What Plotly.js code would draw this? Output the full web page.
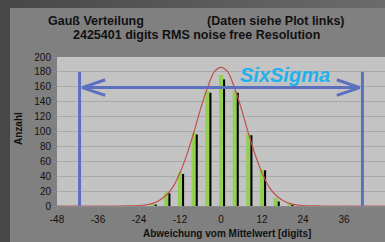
<!DOCTYPE html>
<html>
<head>
<meta charset="utf-8">
<script src="https://cdn.plot.ly/plotly-3.0.1.min.js"></script>
<style>
html,body{margin:0;padding:0;width:385px;height:242px;overflow:hidden;
 background:linear-gradient(to right,#474747,#6b6b6b);}
#chart{position:absolute;left:10px;top:8px;width:375px;height:234px;}
</style>
</head>
<body>
<div id="chart"></div>
<script>
// Histogram bins (digits deviation from mean)
const binX = [-20, -16, -12, -8, -4, 0, 4, 8, 12, 16, 20];
const greenCounts = [3, 18, 45, 98, 154, 176, 154, 97, 49, 11, 3];
const blackCounts = [2, 17, 43, 96, 152, 170, 152, 95, 48, 6, 2];

// Gaussian fit curve
const curveX = [-48, -30, -28, -26, -24, -22, -20, -18, -16, -14, -12, -10, -8, -6, -4, -2, 0,
                2, 4, 6, 8, 10, 12, 14, 16, 18, 20, 22, 24, 26, 28, 30, 48];
const curveY = [0, 0, 0.1, 0.3, 0.6, 1.6, 3.5, 7.6, 14.7, 26, 44.6, 69, 98, 130, 158, 180, 186,
                180, 158, 130, 98, 69, 44.6, 26, 14.7, 7.6, 3.5, 1.6, 0.6, 0.3, 0.1, 0, 0];

// Six-sigma markers
const sixSigmaX = [-41.4, 41.4];
const sixSigmaTop = 180;
const arrowY = 159;
const arrowTipX = [-40.6, 40.6];
const arrowHeadLen = 6.7;
const arrowHeadHalf = 10.5;

// Axis ticks
const xTickVals = [-48, -36, -24, -12, 0, 12, 24, 36, 48];
const xTickText = ['-48', '-36', '-24', '-12', '0', '12', '24', '36', '48'];
const yTickVals = [0, 20, 40, 60, 80, 100, 120, 140, 160, 180, 200];

const FONT = 'Arial, "Liberation Sans", sans-serif';
const BLUE = '#5b70bf';

const traces = [
  {type: 'bar', x: binX, y: greenCounts, width: 1.2, offset: -0.6,
   marker: {color: '#92d050', line: {width: 0}}},
  {type: 'bar', x: binX, y: blackCounts, width: 0.6, offset: 0.6,
   marker: {color: '#000000', line: {width: 0}}},
  {type: 'scatter', mode: 'lines', x: curveX, y: curveY,
   line: {color: '#c0504d', width: 1.2, shape: 'spline', smoothing: 0.8}},
  {type: 'scatter', mode: 'lines',
   x: [sixSigmaX[0], sixSigmaX[0], null, sixSigmaX[1], sixSigmaX[1]],
   y: [0, sixSigmaTop, null, 0, sixSigmaTop],
   line: {color: BLUE, width: 3}},
  {type: 'scatter', mode: 'lines',
   x: [arrowTipX[0], arrowTipX[1]], y: [arrowY, arrowY],
   line: {color: BLUE, width: 3}},
  {type: 'scatter', mode: 'lines',
   x: [arrowTipX[0] + arrowHeadLen, arrowTipX[0], arrowTipX[0] + arrowHeadLen, null,
       arrowTipX[1] - arrowHeadLen, arrowTipX[1], arrowTipX[1] - arrowHeadLen],
   y: [arrowY + arrowHeadHalf, arrowY, arrowY - arrowHeadHalf, null,
       arrowY + arrowHeadHalf, arrowY, arrowY - arrowHeadHalf],
   line: {color: BLUE, width: 3}}
];

const layout = {
  width: 375, height: 234,
  margin: {l: 47, r: 0, t: 49, b: 36, pad: 0},
  paper_bgcolor: '#808080',
  plot_bgcolor: '#c3c3c3',
  showlegend: false,
  barmode: 'overlay',
  hovermode: false,
  font: {family: FONT, size: 10, color: '#111111'},
  xaxis: {
    range: [-48, 48], tickvals: xTickVals, ticktext: xTickText,
    showgrid: false, zeroline: false,
    showline: true, linecolor: '#8c8c8c', linewidth: 1,
    ticks: 'outside', ticklen: 4, tickcolor: '#8c8c8c',
    tickfont: {family: FONT, size: 10, color: '#111111'}
  },
  yaxis: {
    range: [0, 200], tickvals: yTickVals,
    showgrid: true, gridcolor: '#a9a9a9', gridwidth: 1,
    zeroline: false, showline: false,
    ticks: 'outside', ticklen: 3, tickcolor: '#8c8c8c',
    tickfont: {family: FONT, size: 10, color: '#111111'}
  },
  annotations: [
    {xref: 'paper', yref: 'paper', x: -0.0335, y: 1.2416, xanchor: 'left', yanchor: 'middle',
     text: '<b>Gauß Verteilung</b>', showarrow: false,
     font: {family: FONT, size: 12.5, color: '#111111'}},
    {xref: 'paper', yref: 'paper', x: 0.8841, y: 1.2416, xanchor: 'right', yanchor: 'middle',
     text: '<b>(Daten siehe Plot links)</b>', showarrow: false,
     font: {family: FONT, size: 12.5, color: '#111111'}},
    {xref: 'paper', yref: 'paper', x: 0.4238, y: 1.1477, xanchor: 'center', yanchor: 'middle',
     text: '<b>2425401 digits RMS noise free Resolution</b>', showarrow: false,
     font: {family: FONT, size: 12.5, color: '#111111'}},
    {xref: 'paper', yref: 'paper', x: 0.518, y: -0.183, xanchor: 'center', yanchor: 'middle',
     text: '<b>Abweichung vom Mittelwert [digits]</b>', showarrow: false,
     font: {family: FONT, size: 10, color: '#111111'}},
    {xref: 'paper', yref: 'paper', x: -0.1159, y: 0.5235, xanchor: 'center', yanchor: 'middle',
     text: '<b>Anzahl</b>', textangle: -90, showarrow: false,
     font: {family: FONT, size: 10, color: '#111111'}},
    {xref: 'paper', yref: 'paper', x: 0.695, y: 0.879, xanchor: 'center', yanchor: 'middle',
     text: '<b><i>SixSigma</i></b>', showarrow: false,
     font: {family: FONT, size: 20, color: '#1fb1ec'}}
  ]
};

Plotly.newPlot('chart', traces, layout, {staticPlot: true, displayModeBar: false});
</script>
</body>
</html>
